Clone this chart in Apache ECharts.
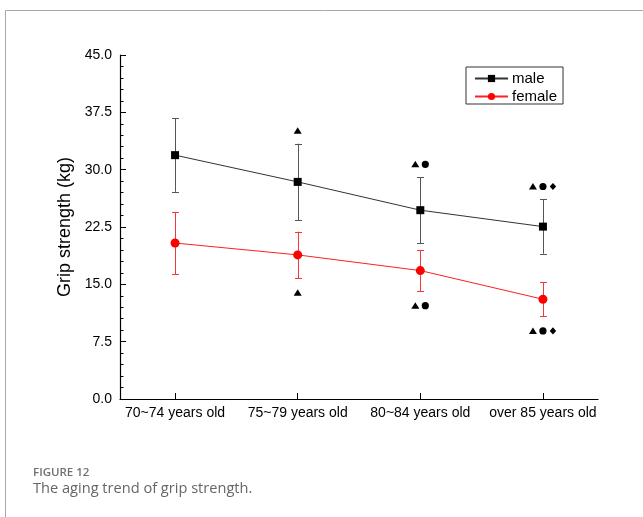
<!DOCTYPE html>
<html>
<head>
<meta charset="utf-8">
<script src="https://cdn.jsdelivr.net/npm/echarts@6/dist/echarts.min.js"></script>
<style>
  html, body { margin: 0; padding: 0; background: #fff; }
  #chart { width: 643px; height: 517px; }
</style>
</head>
<body>
<div id="chart"></div>
<script>
// Age groups along the x axis
const categories = ['70~74 years old', '75~79 years old', '80~84 years old', 'over 85 years old'];

// Grip strength means and standard deviations (kg)
const maleMean = [31.9, 28.4, 24.7, 22.55];
const maleSD = [4.8, 5.0, 4.3, 3.55];
const femaleMean = [20.4, 18.85, 16.8, 13.05];
const femaleSD = [4.05, 3.05, 2.7, 2.25];

// Significance markers above (male) and below (female) each group
const maleMarks = ['', '▲', '▲●', '▲●◆'];
const femaleMarks = ['', '▲', '▲●', '▲●◆'];

// Y axis tick labels
const yTicks = ['0.0', '7.5', '15.0', '22.5', '30.0', '37.5', '45.0'];

const meanPairs = arr => arr.map((v, i) => [i, v]);
const barTriples = (m, sd) => m.map((v, i) => [i, v - sd[i], v + sd[i]]);
const markRows = (m, sd, marks, sign) => m.map((v, i) => [i, v + sign * sd[i], marks[i]]);

const SANS = "'Liberation Sans', Arial, Helvetica, sans-serif";

function errorBarItem(color) {
  return function (params, api) {
    const x = api.value(0);
    const lo = api.coord([x, api.value(1)]);
    const hi = api.coord([x, api.value(2)]);
    const cx = Math.round(lo[0]) + 0.5;
    const w = 3.5;
    const style = { stroke: color, lineWidth: 1 };
    return {
      type: 'group',
      children: [
        { type: 'line', shape: { x1: cx, y1: hi[1], x2: cx, y2: lo[1] }, style },
        { type: 'line', shape: { x1: cx - w, y1: Math.round(hi[1]) + 0.5, x2: cx + w, y2: Math.round(hi[1]) + 0.5 }, style },
        { type: 'line', shape: { x1: cx - w, y1: Math.round(lo[1]) + 0.5, x2: cx + w, y2: Math.round(lo[1]) + 0.5 }, style }
      ]
    };
  };
}

function markGlyph(ch, cx, cy) {
  const st = { fill: '#000' };
  if (ch === '▲') {
    return { type: 'polygon', shape: { points: [[cx, cy - 3.5], [cx + 4, cy + 3], [cx - 4, cy + 3]] }, style: st };
  }
  if (ch === '●') {
    return { type: 'circle', shape: { cx: cx, cy: cy, r: 3.6 }, style: st };
  }
  return { type: 'polygon', shape: { points: [[cx, cy - 3.6], [cx + 3.2, cy], [cx, cy + 3.6], [cx - 3.2, cy]] }, style: st };
}

function markItem(offset) {
  return function (params, api) {
    const x = api.value(0);
    const p = api.coord([x, api.value(1)]);
    const text = String(api.value(2) || '');
    const chars = Array.from(text);
    const gap = 10;
    const start = p[0] - (chars.length - 1) * gap / 2;
    return {
      type: 'group',
      children: chars.map((ch, k) => markGlyph(ch, start + k * gap, p[1] + offset))
    };
  };
}

const chart = echarts.init(document.getElementById('chart'), null, { renderer: 'canvas' });

const axisFont = { fontFamily: SANS, fontSize: 14, color: '#000' };

chart.setOption({
  backgroundColor: '#fff',
  animation: false,
  grid: { left: 120, right: 45, top: 55, bottom: 118, containLabel: false },
  legend: {
    orient: 'vertical',
    left: 466,
    top: 67,
    padding: [4, 6, 0, 8],
    itemGap: 3,
    itemWidth: 33,
    itemHeight: 9,
    borderColor: '#333',
    borderWidth: 1,
    borderRadius: 0,
    textStyle: { fontFamily: SANS, fontSize: 15, color: '#000', padding: [0, 0, 0, -1] },
    data: ['male', 'female']
  },
  xAxis: {
    type: 'value',
    min: -0.449,
    max: 3.449,
    axisLine: { show: true, onZero: false, lineStyle: { color: '#000', width: 1.2 } },
    axisTick: { show: true, inside: true, length: 6, customValues: [0, 1, 2, 3], lineStyle: { color: '#000' } },
    axisLabel: {
      customValues: [0, 1, 2, 3],
      formatter: v => categories[Math.round(v)],
      margin: 7,
      ...axisFont
    },
    splitLine: { show: false }
  },
  yAxis: {
    type: 'value',
    min: 0,
    max: 45,
    interval: 7.5,
    name: 'Grip strength (kg)',
    nameLocation: 'middle',
    nameGap: 40,
    nameTextStyle: { fontFamily: SANS, fontSize: 18, color: '#000' },
    axisLine: { show: true, onZero: false, lineStyle: { color: '#000', width: 1.2 } },
    axisTick: { show: true, inside: true, length: 6, lineStyle: { color: '#000' } },
    minorTick: { show: true, splitNumber: 5, length: 3.5, lineStyle: { color: '#000' } },
    axisLabel: {
      formatter: v => yTicks[Math.round(v / 7.5)],
      margin: 8,
      ...axisFont
    },
    splitLine: { show: false }
  },
  graphic: [
    { type: 'line', shape: { x1: 5.5, y1: 10.5, x2: 643, y2: 10.5 }, style: { stroke: '#a8a8a8', lineWidth: 1 } },
    { type: 'line', shape: { x1: 5.5, y1: 10.5, x2: 5.5, y2: 517 }, style: { stroke: '#a8a8a8', lineWidth: 1 } },
    {
      type: 'text', left: 33, top: 467,
      style: { text: 'FIGURE 12', font: '600 11.5px "Open Sans", sans-serif', fill: '#707070' }
    },
    {
      type: 'text', left: 33, top: 481,
      style: { text: 'The aging trend of grip strength.', font: '14.6px "Open Sans", sans-serif', fill: '#666' }
    }
  ],
  series: [
    {
      type: 'custom',
      name: 'male-sd',
      renderItem: errorBarItem('#555'),
      data: barTriples(maleMean, maleSD),
      z: 1,
      silent: true
    },
    {
      type: 'custom',
      name: 'female-sd',
      renderItem: errorBarItem('#f23a3a'),
      data: barTriples(femaleMean, femaleSD),
      z: 1,
      silent: true
    },
    {
      type: 'custom',
      name: 'male-marks',
      renderItem: markItem(-13),
      data: markRows(maleMean, maleSD, maleMarks, 1),
      z: 3,
      silent: true
    },
    {
      type: 'custom',
      name: 'female-marks',
      renderItem: markItem(14.5),
      data: markRows(femaleMean, femaleSD, femaleMarks, -1),
      z: 3,
      silent: true
    },
    {
      type: 'line',
      name: 'male',
      data: meanPairs(maleMean),
      symbol: 'rect',
      symbolSize: 8,
      itemStyle: { color: '#000' },
      lineStyle: { color: '#333', width: 1 },
      z: 2
    },
    {
      type: 'line',
      name: 'female',
      data: meanPairs(femaleMean),
      symbol: 'circle',
      symbolSize: 9,
      itemStyle: { color: '#ff0000' },
      lineStyle: { color: '#ff2020', width: 1 },
      z: 2
    }
  ]
});
</script>
</body>
</html>
